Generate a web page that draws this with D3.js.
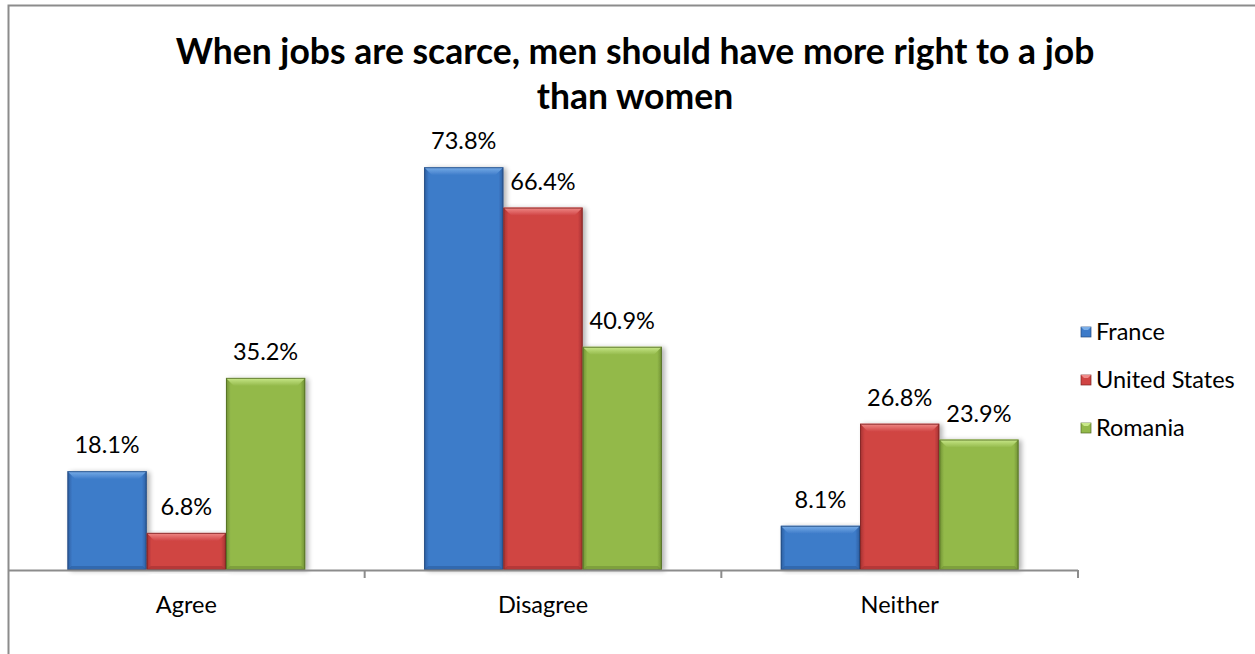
<!DOCTYPE html>
<html>
<head>
<meta charset="utf-8">
<script src="https://cdn.jsdelivr.net/npm/d3@7"></script>
<style>
  html, body { margin: 0; padding: 0; background: #fff; }
  svg { display: block; font-family: Lato, "Open Sans", sans-serif; }
</style>
</head>
<body>
<div id="container"></div>
<script>
// Chart data
const categories = ["Agree", "Disagree", "Neither"];
const seriesNames = ["France", "United States", "Romania"];
const france = [0.181, 0.738, 0.081];
const unitedStates = [0.068, 0.664, 0.268];
const romania = [0.352, 0.409, 0.239];
const seriesValues = [france, unitedStates, romania];
const titleLines = ["When jobs are scarce, men should have more right to a job", "than women"];

const width = 1255;
const height = 654;
const labelSize = 23.5;

// base, light (top bevel), dark (sides/bottom), outline
const palette = [
    { base: "#3d7bc9", light: "#7aaee8", dark: "#2c5d9e", line: "#24497c" },
    { base: "#d04443", light: "#f08a88", dark: "#a33231", line: "#7d2322" },
    { base: "#93b94a", light: "#c9e88a", dark: "#6f8f33", line: "#536b25" }
];

const svg = d3.select("#container").append("svg")
    .attr("width", width)
    .attr("height", height);

// chart frame
svg.append("path")
    .attr("d", "M8.5,654 L8.5,5.5 L1255,5.5")
    .attr("fill", "none")
    .attr("stroke", "#8c8c8c")
    .attr("stroke-width", 2);

const plot = { left: 8, right: 1078, top: 133.4, bottom: 570 };

const x0 = d3.scaleBand()
    .domain(categories)
    .range([plot.left, plot.right])
    .paddingInner(0)
    .paddingOuter(0);

const barW = x0.bandwidth() / (3 + 1.5);
const x1 = d3.scaleBand()
    .domain(seriesNames)
    .range([barW * 0.75, barW * 0.75 + barW * 3]);

const y = d3.scaleLinear()
    .domain([0, 0.8])
    .range([plot.bottom, plot.top]);

// gradients
const defs = svg.append("defs");
palette.forEach((p, i) => {
    const g = defs.append("linearGradient")
        .attr("id", "body" + i)
        .attr("x1", 0).attr("x2", 1).attr("y1", 0).attr("y2", 0);
    g.append("stop").attr("offset", "0%").attr("stop-color", p.dark);
    g.append("stop").attr("offset", "6%").attr("stop-color", p.base);
    g.append("stop").attr("offset", "94%").attr("stop-color", p.base);
    g.append("stop").attr("offset", "100%").attr("stop-color", p.dark);
    const t = defs.append("linearGradient")
        .attr("id", "top" + i)
        .attr("x1", 0).attr("x2", 0).attr("y1", 0).attr("y2", 1);
    t.append("stop").attr("offset", "0%").attr("stop-color", p.light);
    t.append("stop").attr("offset", "100%").attr("stop-color", p.base);
});

const shadow = defs.append("filter").attr("id", "shadow")
    .attr("x", "-10%").attr("y", "-10%").attr("width", "130%").attr("height", "120%");
shadow.append("feGaussianBlur").attr("in", "SourceAlpha").attr("stdDeviation", 2.5);
shadow.append("feOffset").attr("dx", 3).attr("dy", 1).attr("result", "b");
shadow.append("feComponentTransfer").append("feFuncA").attr("type", "linear").attr("slope", 0.3);
const merge = shadow.append("feMerge");
merge.append("feMergeNode");
merge.append("feMergeNode").attr("in", "SourceGraphic");

// bars
const bars = [];
seriesValues.forEach((vals, si) => {
    vals.forEach((v, ci) => {
        bars.push({ si, cat: categories[ci], value: v });
    });
});

const bevel = 8;
const barG = svg.append("g");
bars.forEach(d => {
    const bx = x0(d.cat) + x1(seriesNames[d.si]);
    const by = y(d.value);
    const bh = y(0) - by;
    const p = palette[d.si];
    const g = barG.append("g").attr("filter", "url(#shadow)");
    g.append("rect")
        .attr("x", bx).attr("y", by)
        .attr("width", barW).attr("height", bh)
        .attr("fill", `url(#body${d.si})`);
    const b = Math.min(bevel, bh / 2);
    // top bevel
    g.append("path")
        .attr("d", `M${bx},${by} L${bx + barW},${by} L${bx + barW - b},${by + b} L${bx + b},${by + b} Z`)
        .attr("fill", `url(#top${d.si})`);
    // bottom bevel
    g.append("path")
        .attr("d", `M${bx},${by + bh} L${bx + barW},${by + bh} L${bx + barW - 4},${by + bh - 4} L${bx + 4},${by + bh - 4} Z`)
        .attr("fill", p.dark)
        .attr("opacity", 0.6);
    g.append("rect")
        .attr("x", bx + 0.5).attr("y", by + 0.5)
        .attr("width", barW - 1).attr("height", bh - 1)
        .attr("fill", "none")
        .attr("stroke", p.line)
        .attr("stroke-width", 1)
        .attr("opacity", 0.8);
});

// value labels
svg.append("g")
    .selectAll("text")
    .data(bars)
    .join("text")
    .attr("x", d => x0(d.cat) + x1(seriesNames[d.si]) + barW / 2)
    .attr("y", d => y(d.value) - 26)
    .attr("dy", "0.35em")
    .attr("text-anchor", "middle")
    .attr("font-size", labelSize)
    .attr("fill", "#000")
    .text(d => (d.value * 100).toFixed(1) + "%");

// x axis
const xAxis = svg.append("g");
xAxis.append("line")
    .attr("x1", plot.left).attr("x2", plot.right)
    .attr("y1", plot.bottom + 0.5).attr("y2", plot.bottom + 0.5)
    .attr("stroke", "#8c8c8c").attr("stroke-width", 2);
xAxis.selectAll(".tick")
    .data(categories)
    .join("line")
    .attr("x1", d => x0(d) + x0.bandwidth())
    .attr("x2", d => x0(d) + x0.bandwidth())
    .attr("y1", plot.bottom).attr("y2", plot.bottom + 8)
    .attr("stroke", "#8c8c8c").attr("stroke-width", 2);
xAxis.selectAll("text")
    .data(categories)
    .join("text")
    .attr("x", d => x0(d) + x0.bandwidth() / 2)
    .attr("y", 605)
    .attr("dy", "0.35em")
    .attr("text-anchor", "middle")
    .attr("font-size", labelSize)
    .text(d => d);

// title
svg.append("g")
    .selectAll("text")
    .data(titleLines)
    .join("text")
    .attr("x", 635)
    .attr("y", (d, i) => 52 + i * 45)
    .attr("dy", "0.35em")
    .attr("text-anchor", "middle")
    .attr("font-size", 35.5)
    .attr("font-weight", "bold")
    .text(d => d);

// legend
const legend = svg.append("g")
    .selectAll("g")
    .data(seriesNames)
    .join("g")
    .attr("transform", (d, i) => `translate(1081,${332 + i * 48})`);
legend.append("rect")
    .attr("x", 0).attr("y", -5)
    .attr("width", 10).attr("height", 10)
    .attr("fill", (d, i) => palette[i].base)
    .attr("stroke", (d, i) => palette[i].line)
    .attr("stroke-width", 0.7);
legend.append("path")
    .attr("d", "M0,-5 L10,-5 L7,-2 L3,-2 Z")
    .attr("fill", (d, i) => palette[i].light);
legend.append("text")
    .attr("x", 15)
    .attr("dy", "0.35em")
    .attr("font-size", labelSize)
    .text(d => d);
</script>
</body>
</html>
